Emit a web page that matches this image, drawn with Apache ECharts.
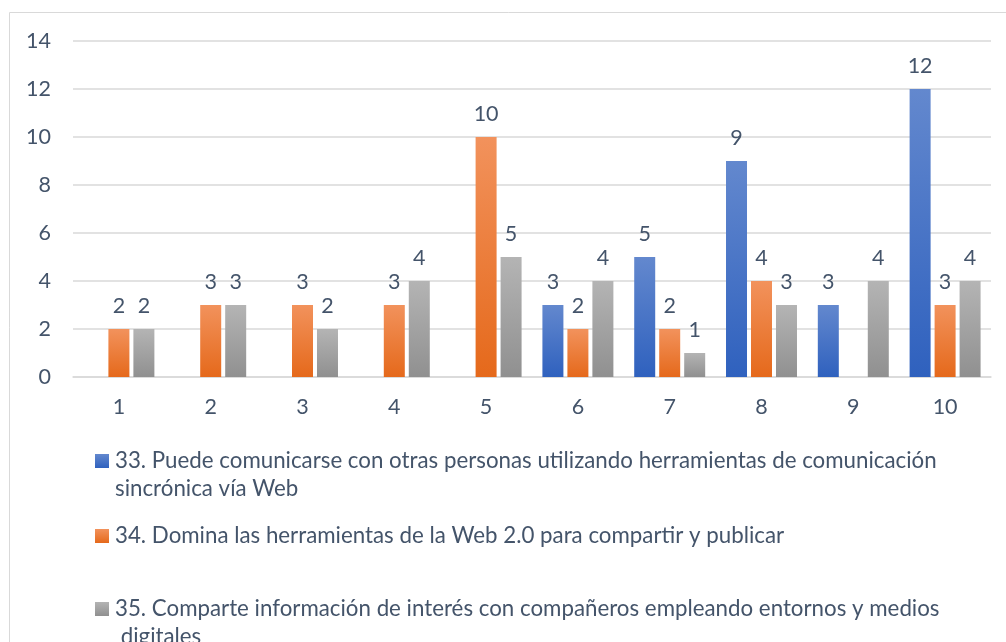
<!DOCTYPE html>
<html><head><meta charset="utf-8">
<script src="https://cdn.jsdelivr.net/npm/echarts@6/dist/echarts.min.js"></script>
<style>html,body{margin:0;padding:0;background:#fff}#c{width:1006px;height:642px}</style>
</head><body><div id="c"></div>
<script>
const categories = ['1','2','3','4','5','6','7','8','9','10'];
const s33 = [null,null,null,null,null,3,5,9,3,12];
const s34 = [2,3,3,3,10,2,2,4,null,3];
const s35 = [2,3,2,4,5,4,1,3,4,4];
const names = [
  '33. Puede comunicarse con otras personas utilizando herramientas de comunicación sincrónica vía Web',
  '34. Domina las herramientas de la Web 2.0 para compartir y publicar',
  '35. Comparte información de interés con compañeros empleando entornos y medios digitales'
];
const yTicks = {min:0, max:14, interval:2};

const FONT = 'Lato';
const TXT = '#44546a';
function grad(top, bottom){
  return new echarts.graphic.LinearGradient(0,0,0,1,[{offset:0,color:top},{offset:1,color:bottom}]);
}
const colors = [grad('#6388ce','#2f61be'), grad('#f2925c','#e5691b'), grad('#b4b4b4','#909090')];
const label = {show:true, position:'top', distance:12, color:TXT, fontFamily:FONT, fontSize:21.5};
function legendFor(i, top, twoLine){
  return {
    data:[names[i]], left:95, top:top, padding:0, itemWidth:14, itemHeight:14, itemGap:0,
    icon:'rect', selectedMode:false,
    formatter: n => twoLine ? '\n' + n : n,
    textStyle:{color:TXT, fontFamily:FONT, fontSize:22.3, lineHeight:28, width:860, overflow:'break', padding:[0,0,0,1]}
  };
}
const chart = echarts.init(document.getElementById('c'), null, {renderer:'canvas'});
chart.setOption({
  animation:false,
  graphic:[{type:'rect', shape:{x:9.5,y:12.5,width:1010,height:650}, style:{fill:'none', stroke:'#d9d9d9', lineWidth:1}, silent:true}],
  grid:{left:73, right:15, top:41, bottom:265},
  legend:[legendFor(0,419,true), legendFor(1,522,false), legendFor(2,567,true)],
  xAxis:{type:'category', data:categories,
    axisLine:{show:true, lineStyle:{color:'#d9d9d9', width:1.5}}, axisTick:{show:false},
    axisLabel:{color:TXT, fontFamily:FONT, fontSize:21.5, margin:19}},
  yAxis:{type:'value', min:yTicks.min, max:yTicks.max, interval:yTicks.interval,
    axisLine:{show:false}, axisTick:{show:false},
    splitLine:{lineStyle:{color:'#d9d9d9', width:1.5}},
    axisLabel:{color:TXT, fontFamily:FONT, fontSize:21.5, margin:22}},
  series:[
    {name:names[0], type:'bar', data:s33, itemStyle:{color:colors[0]}, label:label, barWidth:21, barGap:'19%'},
    {name:names[1], type:'bar', data:s34, itemStyle:{color:colors[1]}, label:label, barWidth:21, barGap:'19%'},
    {name:names[2], type:'bar', data:s35, itemStyle:{color:colors[2]}, label:label, barWidth:21, barGap:'19%'}
  ]
});
</script></body></html>
